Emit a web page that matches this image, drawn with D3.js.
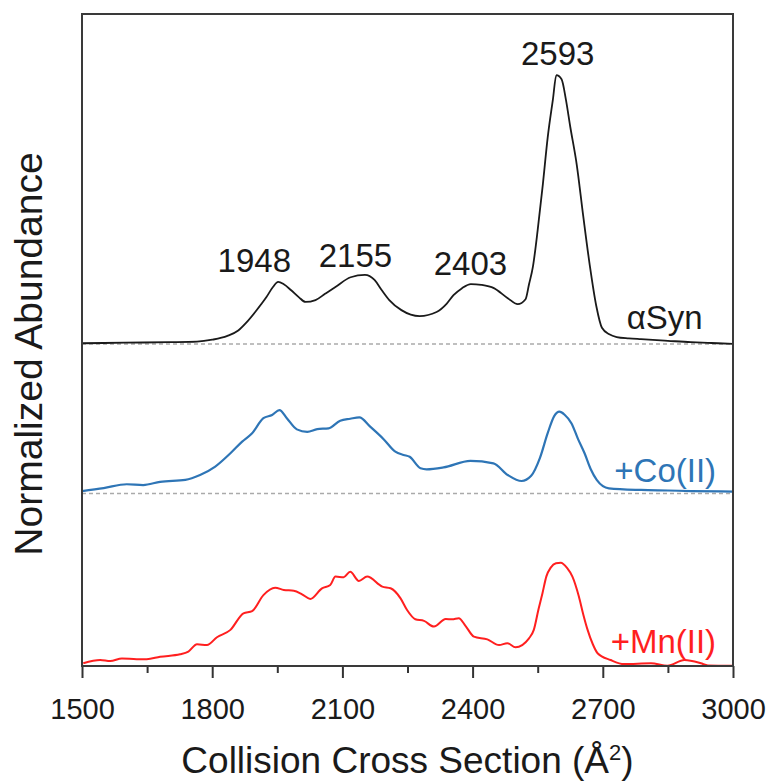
<!DOCTYPE html>
<html>
<head>
<meta charset="utf-8">
<script src="https://cdn.jsdelivr.net/npm/d3@7"></script>
<style>
	body { margin: 0; background: #fff; }
	text { font-family: "Liberation Sans", Arial, sans-serif; }
</style>
</head>
<body>
<script>
// aSyn trace (no metal)
var synCcs = [1500, 1600, 1700, 1765, 1800, 1835, 1860, 1878, 1900, 1925, 1940, 1952, 1965, 1982, 2000, 2015, 2038, 2060, 2084, 2119, 2152, 2174, 2190, 2208, 2236, 2278, 2317, 2340, 2356, 2375, 2396, 2420, 2449, 2481, 2504, 2522, 2530, 2539, 2550, 2562, 2573, 2585, 2593, 2605, 2615, 2625, 2640, 2655, 2670, 2685, 2698, 2715, 2732, 2760, 2788, 2850, 2903, 2950, 3000];
var synAbund = [0.003, 0.005, 0.007, 0.009, 0.016, 0.03, 0.05, 0.078, 0.12, 0.173, 0.21, 0.229, 0.22, 0.198, 0.172, 0.155, 0.162, 0.185, 0.21, 0.246, 0.255, 0.236, 0.2, 0.162, 0.125, 0.103, 0.118, 0.148, 0.18, 0.205, 0.221, 0.218, 0.206, 0.169, 0.147, 0.165, 0.22, 0.285, 0.42, 0.59, 0.76, 0.9, 0.99, 0.975, 0.9, 0.8, 0.66, 0.47, 0.29, 0.14, 0.06, 0.036, 0.026, 0.021, 0.018, 0.012, 0.007, 0.004, 0.001];

// + Co(II)
var coCcs = [1500, 1550, 1603, 1641, 1680, 1738, 1772, 1807, 1842, 1869, 1892, 1918, 1938, 1955, 1972, 1995, 2019, 2042, 2068, 2095, 2118, 2139, 2164, 2195, 2222, 2241, 2255, 2280, 2294, 2333, 2395, 2448, 2481, 2513, 2535, 2555, 2573, 2588, 2600, 2612, 2628, 2643, 2658, 2672, 2686, 2714, 2788, 2850, 2903, 3000];
var coAbund = [0.009, 0.02, 0.034, 0.031, 0.043, 0.05, 0.068, 0.099, 0.148, 0.191, 0.222, 0.277, 0.289, 0.307, 0.277, 0.236, 0.227, 0.237, 0.240, 0.268, 0.275, 0.280, 0.246, 0.200, 0.154, 0.142, 0.135, 0.093, 0.089, 0.096, 0.120, 0.111, 0.068, 0.046, 0.065, 0.13, 0.222, 0.285, 0.301, 0.29, 0.258, 0.2, 0.148, 0.09, 0.05, 0.019, 0.013, 0.011, 0.009, 0.007];

// + Mn(II)
var mnCcs = [1503, 1542, 1565, 1592, 1626, 1649, 1680, 1726, 1745, 1765, 1788, 1811, 1842, 1872, 1892, 1918, 1945, 1965, 1988, 2007, 2026, 2053, 2072, 2084, 2103, 2118, 2138, 2157, 2192, 2211, 2234, 2249, 2268, 2288, 2311, 2338, 2353, 2368, 2384, 2403, 2434, 2461, 2480, 2499, 2530, 2541, 2552, 2561, 2570, 2580, 2592, 2603, 2618, 2630, 2645, 2655, 2665, 2677, 2688, 2718, 2749, 2811, 2849, 2888, 2926, 2942, 3000];
var mnAbund = [0.010, 0.022, 0.018, 0.028, 0.025, 0.025, 0.034, 0.043, 0.053, 0.080, 0.077, 0.106, 0.133, 0.194, 0.202, 0.261, 0.288, 0.280, 0.277, 0.264, 0.247, 0.286, 0.298, 0.329, 0.327, 0.347, 0.313, 0.329, 0.292, 0.286, 0.249, 0.206, 0.172, 0.166, 0.145, 0.173, 0.172, 0.176, 0.147, 0.108, 0.098, 0.077, 0.084, 0.069, 0.102, 0.133, 0.21, 0.268, 0.33, 0.362, 0.378, 0.38, 0.36, 0.329, 0.255, 0.19, 0.133, 0.08, 0.047, 0.022, 0.007, 0.010, 0.001, 0.022, 0.010, 0.002, 0.001];

// series names, colours and vertical offsets (stacked)
var seriesNames = ["αSyn", "+Co(II)", "+Mn(II)"];
var seriesColours = ["#1a1a1a", "#2e75b6", "#ff1f1f"];
var seriesWidths = [1.8, 2.2, 2];
var seriesOffsets = [1.185, 0.635, 0];
// where each name sits (ccs, height above its own baseline)
var nameCcs = [2930, 2961, 2961];
var nameHeight = [0.055, 0.042, 0.048];

// peak annotations on the aSyn trace
var peakLabels = ["1948", "2155", "2403", "2593"];
var peakLabelCcs = [1897, 2130, 2395, 2596];
var peakLabelHeight = [0.265, 0.283, 0.254, 1.027];

var majorTicks = [1500, 1800, 2100, 2400, 2700, 3000];
var minorTicks = [1650, 1950, 2250, 2550, 2850];

var margin = { top: 14, right: 35, bottom: 117, left: 82 };
var width = 768 - margin.left - margin.right, height = 783 - margin.top - margin.bottom;

var svg = d3.select("body").append("svg")
	.attr("width", width + margin.left + margin.right)
	.attr("height", height + margin.top + margin.bottom)
	.append("g")
	.attr("transform", "translate(" + margin.left + "," + margin.top + ")");

var x = d3.scaleLinear()
	.domain([1500, 3000])
	.range([0, width]);

var y = d3.scaleLinear()
	.domain([0, 2.4])
	.range([height, 0]);

var series = [
	{ ccs: synCcs, abund: synAbund },
	{ ccs: coCcs, abund: coAbund },
	{ ccs: mnCcs, abund: mnAbund }
].map((s, i) => ({
	name: seriesNames[i],
	colour: seriesColours[i],
	strokeWidth: seriesWidths[i],
	offset: seriesOffsets[i],
	points: s.ccs.map((c, j) => ({ ccs: c, v: s.abund[j] }))
}));

// dashed baselines for the stacked traces
svg.append("g").selectAll("line")
	.data(series.filter(d => d.offset > 0))
	.enter().append("line")
	.attr("x1", 0)
	.attr("x2", width)
	.attr("y1", d => y(d.offset))
	.attr("y2", d => y(d.offset))
	.style("stroke", "#aaaaaa")
	.style("stroke-width", 1.5)
	.style("stroke-dasharray", "4,3");

var line = d3.line()
	.curve(d3.curveMonotoneX);

svg.append("g").selectAll("path")
	.data(series)
	.enter().append("path")
	.attr("d", d => line.x(p => x(p.ccs)).y(p => y(p.v + d.offset))(d.points))
	.style("fill", "none")
	.style("stroke", d => d.colour)
	.style("stroke-width", d => d.strokeWidth)
	.style("stroke-linejoin", "round");

// trace names
svg.append("g").selectAll("text")
	.data(series)
	.enter().append("text")
	.attr("x", (d, i) => x(nameCcs[i]))
	.attr("y", (d, i) => y(d.offset + nameHeight[i]))
	.attr("text-anchor", "end")
	.style("font-size", "33px")
	.style("fill", d => d.colour)
	.text(d => d.name);

// peak values
svg.append("g").selectAll("text")
	.data(peakLabels)
	.enter().append("text")
	.attr("x", (d, i) => x(peakLabelCcs[i]))
	.attr("y", (d, i) => y(seriesOffsets[0] + peakLabelHeight[i]))
	.attr("text-anchor", "middle")
	.style("font-size", "33px")
	.style("fill", "#1a1a1a")
	.text(d => d);

// x axis
var xAxis = d3.axisBottom(x)
	.tickValues(majorTicks)
	.tickFormat(d3.format("d"))
	.tickSize(12)
	.tickPadding(20);

var xAxisElem = svg.append("g")
	.attr("transform", "translate(0," + height + ")")
	.call(xAxis);
xAxisElem.select(".domain").remove();
xAxisElem.selectAll("line").style("stroke", "#333").style("stroke-width", 2);
xAxisElem.selectAll("text")
	.style("font-size", "29px")
	.style("font-family", "'Liberation Sans', Arial, sans-serif")
	.style("fill", "#1a1a1a");

var minorAxis = svg.append("g")
	.attr("transform", "translate(0," + height + ")")
	.call(d3.axisBottom(x).tickValues(minorTicks).tickSize(7).tickFormat(""));
minorAxis.select(".domain").remove();
minorAxis.selectAll("line").style("stroke", "#333").style("stroke-width", 2);

// frame
svg.append("rect")
	.attr("width", width)
	.attr("height", height)
	.style("fill", "none")
	.style("stroke", "#3a3a3a")
	.style("stroke-width", 2);

// axis titles
var xTitle = svg.append("text")
	.attr("x", width / 2)
	.attr("y", height + 107)
	.attr("text-anchor", "middle")
	.style("font-size", "37px")
	.style("fill", "#1a1a1a");
xTitle.append("tspan").text("Collision Cross Section (Å");
xTitle.append("tspan").attr("dy", -13).style("font-size", "22px").text("2");
xTitle.append("tspan").attr("dy", 13).text(")");

svg.append("text")
	.attr("text-anchor", "middle")
	.attr("transform", "translate(" + (42 - margin.left) + "," + (354 - margin.top) + ") rotate(-90)")
	.style("font-size", "39px")
	.style("fill", "#1a1a1a")
	.text("Normalized Abundance");
</script>
</body>
</html>
